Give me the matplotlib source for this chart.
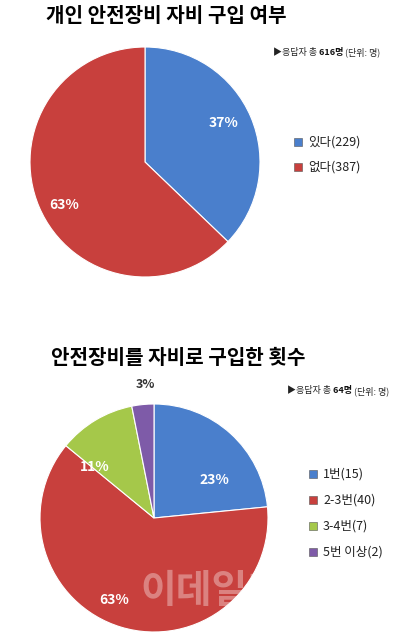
import matplotlib.pyplot as plt

plt.rcParams['font.family'] = ['Noto Sans CJK KR', 'DejaVu Sans']

W, H = 416, 634

# chart 1: personal purchase of safety gear
title1 = "개인 안전장비 자비 구입 여부"
labels1 = ["있다(229)", "없다(387)"]
values1 = [229, 387]
pct1 = ["37%", "63%"]
total1 = "616명"

# chart 2: number of purchases
title2 = "안전장비를 자비로 구입한 횟수"
labels2 = ["1번(15)", "2-3번(40)", "3-4번(7)", "5번 이상(2)"]
values2 = [15, 40, 7, 2]
pct2 = ["23%", "63%", "11%", "3%"]
total2 = "64명"

colors1 = ["#4a7fcc", "#c8403d"]
colors2 = ["#4a7fcc", "#c8403d", "#a5c84a", "#7e5ba8"]


def pie_axes(fig, cx, cy, r, values, colors):
    """Square axes placed by pixel centre/radius, pie drawn at radius 1."""
    ax = fig.add_axes([(cx - r) / W, (H - cy - r) / H, 2 * r / W, 2 * r / H])
    ax.pie(values, colors=colors, startangle=90, counterclock=False, radius=1,
           wedgeprops=dict(edgecolor="white", linewidth=0.8))
    ax.set_xlim(-1, 1)
    ax.set_ylim(-1, 1)
    ax.set_aspect("equal")
    ax.axis("off")
    return ax


def ftxt(fig, x, y, s, **kw):
    return fig.text(x / W, 1 - y / H, s, **kw)


def note(fig, x, y, total):
    t = ftxt(fig, x, y, "▶응답자 총 ", fontsize=6.5, ha="left", va="center",
             color="#222222")
    a = fig.axes[-1].annotate(total + " ", xy=(1, 0.5), xycoords=t, fontsize=6.5,
                              fontweight="bold", ha="left", va="center",
                              color="#111111", annotation_clip=False)
    fig.axes[-1].annotate("(단위: 명)", xy=(1, 0.5), xycoords=a, fontsize=6.5,
                          ha="left", va="center", color="#222222",
                          annotation_clip=False)


def legend(fig, x, y0, dy, labels, colors):
    for i, (lab, c) in enumerate(zip(labels, colors)):
        y = y0 + i * dy
        fig.patches.append(plt.Rectangle((x / W, 1 - (y + 4) / H), 8 / W, 8 / H,
                                         transform=fig.transFigure, facecolor=c,
                                         edgecolor="#555555", linewidth=0.4))
        ftxt(fig, x + 14, y, lab, fontsize=9, ha="left", va="center", color="#222222")


fig = plt.figure(figsize=(W / 100, H / 100), dpi=100)
pct_kw = dict(color="white", fontsize=10, fontweight="bold", ha="center", va="center")

# ---- chart 1 ----
ftxt(fig, 166, 16, title1, fontsize=14.5, fontweight="bold", ha="center", va="center")
ax1 = pie_axes(fig, 145, 162, 115, values1, colors1)
ax1.text(0.68, 0.34, pct1[0], **pct_kw)
ax1.text(-0.7, -0.37, pct1[1], **pct_kw)
note(fig, 273, 52, total1)
legend(fig, 294, 142, 25, labels1, colors1)

# ---- chart 2 ----
ftxt(fig, 178, 358, title2, fontsize=14.5, fontweight="bold", ha="center", va="center")
ax2 = pie_axes(fig, 154, 518, 114, values2, colors2)
ax2.text(0.53, 0.33, pct2[0], **pct_kw)
ax2.text(-0.35, -0.72, pct2[1], **pct_kw)
ax2.text(-0.52, 0.45, pct2[2], **pct_kw)
ftxt(fig, 145, 384, pct2[3], fontsize=9, fontweight="bold", ha="center", va="center",
     color="#333333")
note(fig, 287, 391, total2)
legend(fig, 309, 474, 26, labels2, colors2)

# watermark
ftxt(fig, 212, 592, "이데일리", fontsize=28, fontweight="bold", ha="center", va="center",
     color="white", alpha=0.35)

fig.savefig("out.png", dpi=100)
